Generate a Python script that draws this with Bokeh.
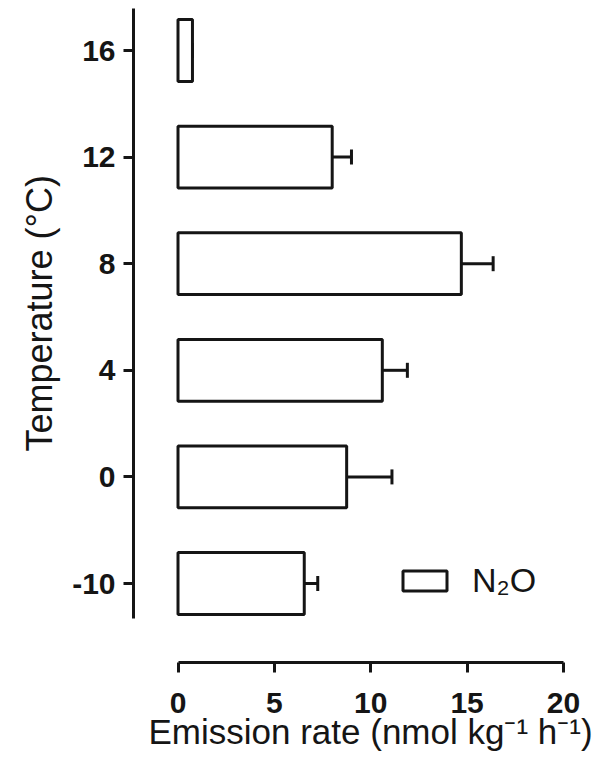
from bokeh.plotting import figure
from bokeh.models import (Range1d, FixedTicker, Whisker, TeeHead, Title,
                          Legend, LegendItem, ColumnDataSource)
from bokeh.embed import file_html
from bokeh.resources import INLINE

# ---- data ----
temperatures = ["-10", "0", "4", "8", "12", "16"]
emission = [6.55, 8.75, 10.6, 14.7, 8.0, 0.75]
error = [0.7, 2.35, 1.3, 1.65, 1.0, 0.0]
x_ticks = [0, 5, 10, 15, 20]
x_label = "Emission rate (nmol kg\u207b\u00b9 h\u207b\u00b9)"
y_label = "Temperature (\u00b0C)"
series_name = "N\u2082O"

pos = list(range(len(temperatures)))
upper = [v + e for v, e in zip(emission, error)]
src = ColumnDataSource(dict(y=pos, right=emission, lower=emission, upper=upper))

INK = "#151515"
FONT = "Liberation Sans"

p = figure(width=597, height=763,
           x_range=Range1d(-2.309, 21.764), y_range=Range1d(-0.741, 5.394),
           output_backend="svg", toolbar_location=None,
           min_border_left=133, min_border_right=0,
           min_border_top=8, min_border_bottom=101)
p.outline_line_color = None
p.xgrid.visible = False
p.ygrid.visible = False
p.background_fill_color = "white"
p.border_fill_color = "white"

bars = p.hbar(y="y", left=0, right="right", height=0.58, source=src,
              fill_color="white", line_color=INK, line_width=3)

wh = Whisker(source=src, base="y", lower="lower", upper="upper",
             dimension="width", line_color=INK, line_width=3,
             upper_head=TeeHead(size=15, line_color=INK, line_width=3),
             lower_head=None)
p.add_layout(wh)

# x axis
xa = p.xaxis[0]
xa.ticker = FixedTicker(ticks=x_ticks)
xa.bounds = (0, 20)
xa.axis_line_width = 3
xa.axis_line_color = INK
xa.major_tick_line_width = 3
xa.major_tick_line_color = INK
xa.major_tick_out = 10
xa.major_tick_in = 0
xa.minor_tick_line_color = None
xa.major_label_text_font = FONT
xa.major_label_text_font_style = "bold"
xa.major_label_text_font_size = "30px"
xa.major_label_text_color = INK
xa.major_label_standoff = 20

# y axis
ya = p.yaxis[0]
ya.ticker = FixedTicker(ticks=pos)
ya.major_label_overrides = {i: t for i, t in zip(pos, temperatures)}
ya.bounds = (-0.328, 5.394)
ya.axis_line_width = 3
ya.axis_line_color = INK
ya.major_tick_line_width = 3
ya.major_tick_line_color = INK
ya.major_tick_out = 10
ya.major_tick_in = 0
ya.minor_tick_line_color = None
ya.major_label_text_font = FONT
ya.major_label_text_font_style = "bold"
ya.major_label_text_font_size = "30px"
ya.major_label_text_color = INK
ya.major_label_standoff = 8

# axis titles as side-panel titles, placed under the axis bounds
ytitle = Title(text=y_label, align="left", offset=211, vertical_align="bottom",
               standoff=20, text_font=FONT, text_font_size="36px",
               text_font_style="normal", text_color=INK)
p.add_layout(ytitle, "left")
xtitle = Title(text=x_label, align="left", offset=15, vertical_align="top",
               standoff=-8, text_font=FONT, text_font_size="35px",
               text_font_style="normal", text_color=INK)
p.add_layout(xtitle, "below")

legend = Legend(items=[LegendItem(label=series_name, renderers=[bars])],
                location=(264, 62), glyph_width=55, glyph_height=25,
                label_standoff=20, padding=0, margin=0, spacing=0,
                border_line_color=None, background_fill_alpha=0,
                label_text_font=FONT, label_text_font_size="34px",
                label_text_color=INK)
p.add_layout(legend)

open("out.html", "w").write(file_html(p, INLINE))
